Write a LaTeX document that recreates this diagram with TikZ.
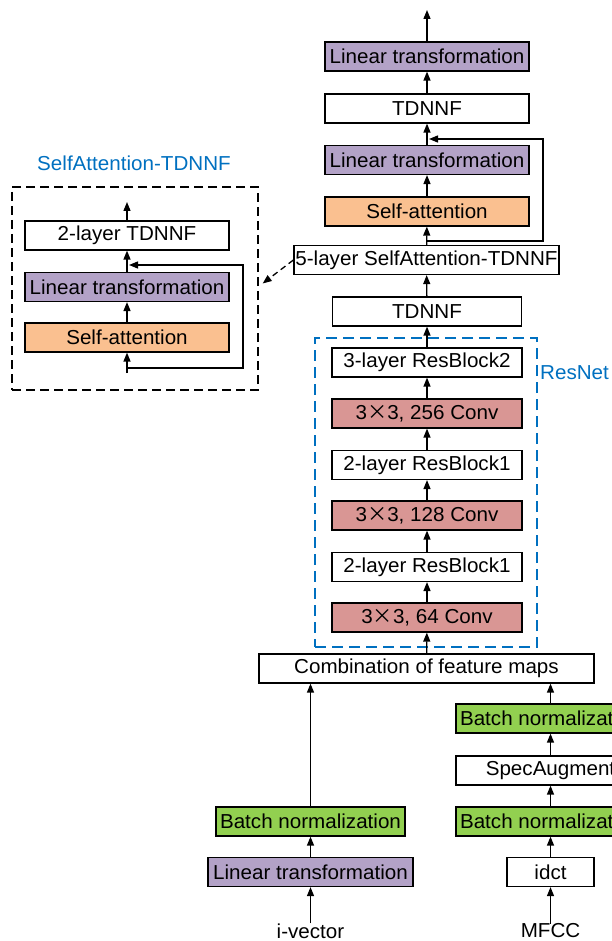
\documentclass[tikz,border=0pt]{standalone}
\usepackage{fontspec}
\setmainfont{Liberation Sans}[FakeStretch=1.02]
\newfontfamily\cjk{Noto Sans CJK SC}
\usepackage{xcolor}
\usetikzlibrary{arrows.meta}

\definecolor{linpurple}{HTML}{B3A2C7}
\definecolor{attorange}{HTML}{FAC090}
\definecolor{convred}{HTML}{D99694}
\definecolor{bngreen}{HTML}{92D050}
\definecolor{netblue}{HTML}{0070C0}

\newcommand{\by}{{\cjk ×}}

\begin{document}
\begin{tikzpicture}[x=1pt,y=-1pt,
	>={Triangle[length=9pt,width=7pt]},
	every node/.style={font=\fontsize{20.2}{24}\selectfont},
	blk/.style={draw,line width=1.2pt,minimum height=29pt,inner sep=0pt},
	lin/.style={blk,fill=linpurple},
	att/.style={blk,fill=attorange},
	conv/.style={blk,fill=convred},
	bn/.style={blk,fill=bngreen},
	flow/.style={->,line width=1.3pt}]
	\useasboundingbox (0,0) rectangle (611,941);

	% main column
	\node[lin,minimum width=204pt] (lintop) at (427,56.5) {Linear transformation};
	\node[blk,minimum width=204pt] (tdnnftop) at (427,108.5) {TDNNF};
	\node[lin,minimum width=204pt] (linmid) at (427,160) {Linear transformation};
	\node[att,minimum width=204pt] (attmid) at (427,211.5) {Self-attention};
	\node[blk,minimum width=265pt] (five) at (426.5,260) {5-layer SelfAttention-TDNNF};
	\node[blk,minimum width=189pt] (tdnnflow) at (427,311.5) {TDNNF};

	% resnet
	\node[blk,minimum width=190pt] (rb2) at (427,362.5) {3-layer ResBlock2};
	\node[conv,minimum width=190pt] (c256) at (427,413.5) {3\by3, 256 Conv};
	\node[blk,minimum width=190pt] (rb1b) at (427,465) {2-layer ResBlock1};
	\node[conv,minimum width=190pt] (c128) at (427,515.5) {3\by3, 128 Conv};
	\node[blk,minimum width=190pt] (rb1a) at (427,567) {2-layer ResBlock1};
	\node[conv,minimum width=190pt] (c64) at (427,617.5) {3\by3, 64 Conv};
	\node[draw=netblue,line width=1.3pt,dash pattern=on 11pt off 6pt,
		minimum width=222pt,minimum height=309pt,inner sep=0pt] (resbox) at (426,492.5) {};
	\node[netblue,anchor=west,inner sep=0pt] (resname) at (540,373) {ResNet};

	\node[blk,minimum width=335pt] (comb) at (426.5,668.5) {Combination of feature maps};

	% i-vector branch
	\node[bn,minimum width=189pt] (ivbn) at (310.5,821.5) {Batch normalization};
	\node[lin,minimum width=205pt] (ivlin) at (310.5,872) {Linear transformation};
	\node[inner sep=0pt] (iv) at (310.5,931) {i-vector};

	% MFCC branch
	\node[bn,minimum width=189pt] (mfbn2) at (550.5,718.5) {Batch normalization};
	\node[blk,minimum width=189pt] (spec) at (550.5,770.5) {SpecAugment};
	\node[bn,minimum width=189pt] (mfbn1) at (550.5,821.5) {Batch normalization};
	\node[blk,minimum width=87pt] (idct) at (550.5,872) {idct};
	\node[inner sep=0pt] (mfcc) at (550.5,931) {MFCC};

	% detail of one layer
	\node[netblue] (satitle) at (134,163) {SelfAttention-TDNNF};
	\node[draw,line width=1.3pt,dash pattern=on 9pt off 5pt,
		minimum width=246pt,minimum height=203pt,inner sep=0pt] (sabox) at (135,288.5) {};
	\node[blk,minimum width=204pt] (satdnnf) at (127,235.5) {2-layer TDNNF};
	\node[lin,minimum width=204pt] (salin) at (127,287) {Linear transformation};
	\node[att,minimum width=204pt] (saatt) at (127,337.5) {Self-attention};

	\coordinate (topout) at (427,10);
	\coordinate (skipin) at (427,241);
	\coordinate (skipout) at (429,139);
	\coordinate (sain) at (127,373);
	\coordinate (saout) at (127,202);
	\coordinate (saskipin) at (127,368);
	\coordinate (saskipout) at (129,265);

	% arrows main column
	\draw[flow] (lintop) -- (topout);
	\draw[flow] (tdnnftop) -- (lintop);
	\draw[flow] (linmid) -- (tdnnftop);
	\draw[flow] (attmid) -- (linmid);
	\draw[flow] (five) -- (attmid);
	\draw[flow] (tdnnflow) -- (five);
	\draw[flow] (rb2) -- (tdnnflow);
	\draw[flow] (c256) -- (rb2);
	\draw[flow] (rb1b) -- (c256);
	\draw[flow] (c128) -- (rb1b);
	\draw[flow] (rb1a) -- (c128);
	\draw[flow] (c64) -- (rb1a);
	\draw[flow] (comb) -- (c64);
	\draw[flow] (skipin) -- ++(116,0) |- (skipout);

	% inputs
	\draw[flow] (iv) -- (ivlin);
	\draw[flow] (ivlin) -- (ivbn);
	\draw[flow] (ivbn) -- (comb.south -| ivbn);
	\draw[flow] (mfcc) -- (idct);
	\draw[flow] (idct) -- (mfbn1);
	\draw[flow] (mfbn1) -- (spec);
	\draw[flow] (spec) -- (mfbn2);
	\draw[flow] (mfbn2) -- (comb.south -| mfbn2);

	% inside the detail box
	\draw[flow] (sain) -- (saatt);
	\draw[flow] (saatt) -- (salin);
	\draw[flow] (salin) -- (satdnnf);
	\draw[flow] (satdnnf) -- (saout);
	\draw[flow] (saskipin) -- ++(116,0) |- (saskipout);

	\draw[flow,dash pattern=on 6pt off 4pt] (five.west) -- ([shift={(4,-5)}]sabox.east);
\end{tikzpicture}
\end{document}
